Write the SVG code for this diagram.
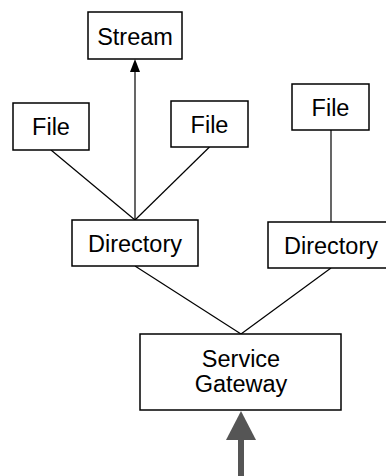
<svg xmlns="http://www.w3.org/2000/svg" width="386" height="476" viewBox="0 0 386 476">
  <style>
    .box { fill: #ffffff; stroke: #000000; stroke-width: 1.5; }
    .lbl { font-family: "Liberation Sans", Arial, sans-serif; font-size: 23.5px; fill: #000000; text-anchor: middle; }
    .link { stroke: #000000; stroke-width: 1.2; fill: none; }
  </style>
  <rect width="386" height="476" fill="#ffffff"/>

  <g id="connectors">
    <line class="link" x1="135" y1="220" x2="51" y2="150"/>
    <line class="link" x1="135" y1="220" x2="209.5" y2="147"/>
    <line class="link" x1="135" y1="220" x2="135" y2="72"/>
    <path d="M130,72 L135,59 L140,72 Z" fill="#000000"/>
    <line class="link" x1="331" y1="130" x2="331" y2="222"/>
    <line class="link" x1="135" y1="266" x2="241" y2="334"/>
    <line class="link" x1="331" y1="268" x2="241" y2="334"/>
    <rect x="238" y="439" width="6" height="37" fill="#555555"/>
    <path d="M226,440 L241,411 L256,440 Z" fill="#555555"/>
  </g>

  <g id="stream">
    <rect class="box" x="88" y="12" width="94" height="47"/>
    <text class="lbl" x="135" y="44.5">Stream</text>
  </g>
  <g id="file-left">
    <rect class="box" x="13" y="103" width="76" height="47"/>
    <text class="lbl" x="51" y="135">File</text>
  </g>
  <g id="file-mid">
    <rect class="box" x="171" y="101" width="77" height="46"/>
    <text class="lbl" x="209.5" y="132.5">File</text>
  </g>
  <g id="file-right">
    <rect class="box" x="292" y="84" width="77" height="46"/>
    <text class="lbl" x="330.5" y="115.5">File</text>
  </g>
  <g id="directory-left">
    <rect class="box" x="72" y="220" width="126" height="46"/>
    <text class="lbl" x="135" y="251.5">Directory</text>
  </g>
  <g id="directory-right">
    <rect class="box" x="268" y="222" width="126" height="46"/>
    <text class="lbl" x="331" y="253.5">Directory</text>
  </g>
  <g id="service-gateway">
    <rect class="box" x="140" y="334" width="201" height="76"/>
    <text class="lbl" x="241" y="367">Service</text>
    <text class="lbl" x="241" y="392">Gateway</text>
  </g>
</svg>
